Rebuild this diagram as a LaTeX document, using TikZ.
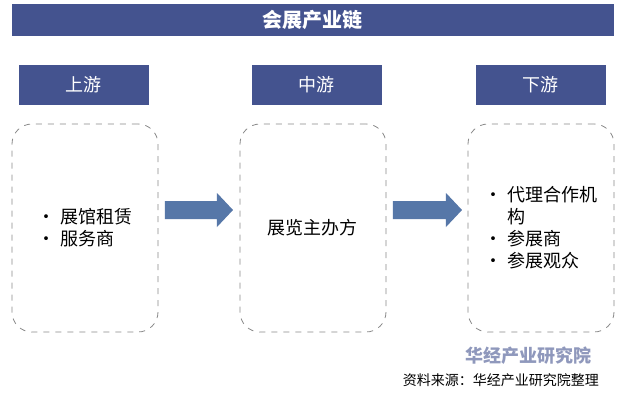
\documentclass[tikz,border=0pt]{standalone}
\usepackage{fontspec}
\setmainfont{Noto Sans CJK SC}
\usetikzlibrary{positioning,calc}
\definecolor{bar_blue}{HTML}{44538F}
\definecolor{arrow_blue}{HTML}{5677A8}
\definecolor{line_grey}{HTML}{8A8A8A}
\tikzset{
  headbox/.style={fill=bar_blue, text=white, minimum width=65pt, minimum height=20pt, font=\small},
  chainbox/.style={draw=line_grey, dashed, rounded corners=10pt, minimum width=73pt, minimum height=104pt, align=left, font=\small},
  flowarrow/.style={fill=arrow_blue}
}
\newcommand{\fatarrow}[2]{%
  \fill[flowarrow] ($(#1)+(0,-9)$) -- ($(#2)+(-16,-9)$) -- ($(#2)+(-16,-17)$) -- (#2)
    -- ($(#2)+(-16,17)$) -- ($(#2)+(-16,9)$) -- ($(#1)+(0,9)$) -- cycle;}
\begin{document}
\begin{tikzpicture}[x=0.5pt,y=-0.5pt]
    \useasboundingbox (0,0) rectangle (618,403);
    \fill[white] (0,0) rectangle (618,403);

    % titre
    \node[fill=bar_blue, text=white, minimum width=301pt, minimum height=15pt, font=\bfseries] (title) at (313,20) {会展产业链};

    % en-tetes
    \node[headbox] (up) at (84,85) {上游};
    \node[headbox] (mid) at (317,85) {中游};
    \node[headbox] (down) at (541,85) {下游};

    % cadres
    \node[chainbox] (upbox) at (85,228) {\textbullet\ 展馆租赁\\\textbullet\ 服务商};
    \node[chainbox] (midbox) at (313,228) {展览主办方};
    \node[chainbox] (downbox) at (541,228) {\textbullet\ 代理合作机\\\phantom{\textbullet\ }构\\\textbullet\ 参展商\\\textbullet\ 参展观众};

    % fleches
    \coordinate (a1s) at (165,210);
    \coordinate (a1e) at (233,210);
    \coordinate (a2s) at (393,210);
    \coordinate (a2e) at (462,210);
    \fatarrow{a1s}{a1e}
    \fatarrow{a2s}{a2e}

    % source
    \node[text=bar_blue!60, font=\bfseries\small, anchor=west] (brand) at (458,356) {华经产业研究院};
    \node[font=\scriptsize, anchor=east] (src) at (606,380) {资料来源：华经产业研究院整理};
\end{tikzpicture}
\end{document}
